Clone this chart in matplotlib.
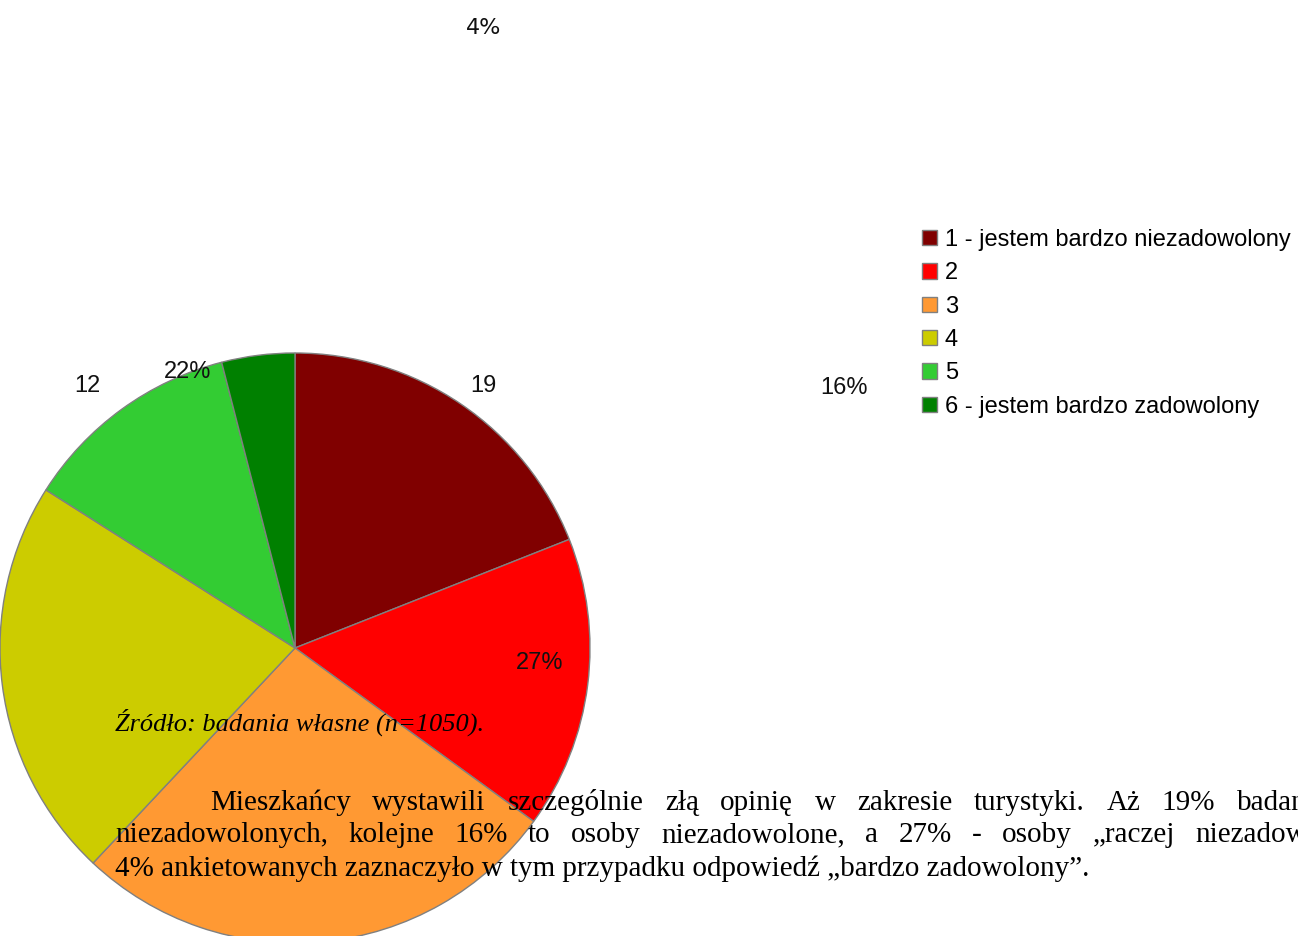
import matplotlib
matplotlib.use("Agg")
import matplotlib.pyplot as plt

# ---- data ----
categories = ["1 - jestem bardzo niezadowolony", "2", "3", "4", "5",
              "6 - jestem bardzo zadowolony"]
values = [19, 16, 27, 22, 12, 4]
colors = ["#800000", "#FF0000", "#FF9933", "#CCCC00", "#33CC33", "#008000"]
value_labels = ["4%", "12", "22%", "19", "16%", "27%"]

W, H = 1298, 936
fig = plt.figure(figsize=(W / 100, H / 100), dpi=100)
ax = fig.add_axes([0, 0, 1, 1])

def py(y):
    return H - y

wedges, _ = ax.pie(values, colors=colors, startangle=90, counterclock=False,
                   center=(295, py(648)), radius=295,
                   wedgeprops=dict(edgecolor="#808080", linewidth=1.0))
ax.set_xlim(0, W)
ax.set_ylim(0, H)
ax.set_aspect("equal")
ax.axis("off")

# value labels (placed as in the reference)
label_pos = [(484, 28), (87, 386), (188, 372), (483, 386), (844, 388), (540, 663)]
label_fonts = ["DejaVu Sans", "Liberation Sans", "Liberation Sans",
               "Liberation Sans", "Liberation Sans", "Liberation Sans"]
label_sizes = [16, 17, 17, 17, 17, 17]
for txt, (x, y), f, s in zip(value_labels, label_pos, label_fonts, label_sizes):
    ax.text(x, py(y), txt, ha="center", va="center", fontsize=s,
            family=f, color="#111111")

# legend
leg = ax.legend(wedges, categories, loc="upper left",
                bbox_to_anchor=(922 / W, 1 - 229 / H), frameon=False,
                prop=dict(family="Liberation Sans", size=17),
                handlelength=0.62, handleheight=0.62, handletextpad=0.35,
                labelspacing=0.48, borderpad=0, borderaxespad=0)
for h in leg.legend_handles:
    h.set_edgecolor("#808080")
    h.set_linewidth(1.0)

# caption
ax.text(115, py(722), "Źródło: badania własne (n=1050).", ha="left",
        va="center", fontsize=19, family="Liberation Serif", style="italic")

# paragraph: justified lines (running past the right edge as in the reference)
serif = dict(fontsize=21, family="Liberation Serif", va="center", ha="left")
line1_words = ["Mieszkańcy", "wystawili", "szczególnie", "złą", "opinię", "w",
               "zakresie", "turystyki.", "Aż", "19%", "badanych"]
line2_words = ["niezadowolonych,", "kolejne", "16%", "to", "osoby",
               "niezadowolone,", "a", "27%", "-", "osoby", "„raczej",
               "niezadowolone”."]

renderer = fig.canvas.get_renderer()

def justified(words, x_first, x_last, y):
    arts = [ax.text(0, py(y), w, **serif) for w in words]
    widths = [a.get_window_extent(renderer).width for a in arts]
    gap = (x_last - x_first - sum(widths[:-1])) / (len(words) - 1)
    x = x_first
    for a, wdt in zip(arts, widths):
        a.set_x(x)
        x += wdt + gap

justified(line1_words, 210, 1237, 803)
justified(line2_words, 115, 1195, 835)
ax.text(115, py(869),
        "4% ankietowanych zaznaczyło w tym przypadku odpowiedź „bardzo zadowolony”.",
        **serif)

fig.savefig("out.png", dpi=100, facecolor="white")
